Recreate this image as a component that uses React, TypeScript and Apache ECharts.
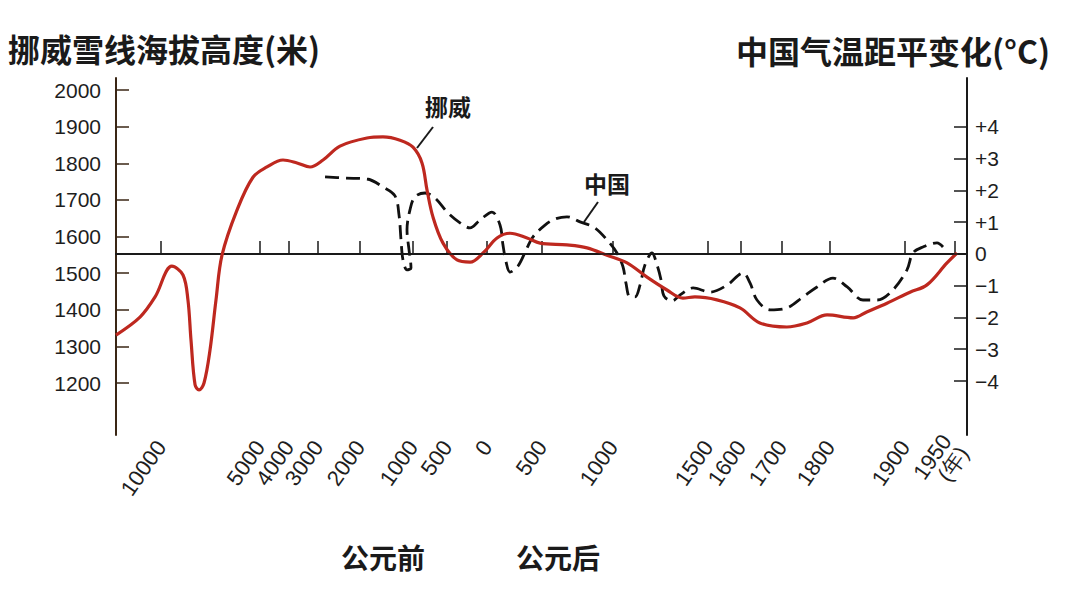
import React, { useEffect, useRef } from "react";
import * as echarts from "echarts";

// ---- data ----
const tickYears = [-10000, -5000, -4000, -3000, -2000, -1000, -500, 0, 500, 1000, 1500, 1600, 1700, 1800, 1900, 1950];
const tickLabels = ["10000", "5000", "4000", "3000", "2000", "1000", "500", "0", "500", "1000", "1500", "1600", "1700", "1800", "1900", "1950\n(年)"];
const leftTicks = [1200, 1300, 1400, 1500, 1600, 1700, 1800, 1900, 2000];
const rightTicks = [-4, -3, -2, -1, 0, 1, 2, 3, 4];

const norwayYears = [-12270, -11060, -10300, -9450, -8890, -8640, -8485, -8280, -8080, -7828, -7525, -7222, -6919, -6162, -5354, -4759, -4207, -3724, -3276, -2881, -2476, -1868, -1566, -1245, -1000, -868, -794, -706, -559, -375, -212, -50, 91, 209, 364, 482, 676, 817, 958, 1074, 1179, 1284, 1368, 1431, 1527, 1597, 1646, 1710, 1752, 1794, 1831, 1849, 1876, 1905, 1922, 1942, 1952];
const norwayValues = [1331, 1380, 1435, 1519, 1495, 1427, 1317, 1195, 1181, 1200, 1290, 1427, 1549, 1672, 1762, 1790, 1809, 1801, 1790, 1809, 1847, 1869, 1872, 1863, 1844, 1801, 1727, 1653, 1582, 1536, 1530, 1555, 1596, 1609, 1596, 1582, 1577, 1569, 1549, 1528, 1489, 1454, 1432, 1435, 1427, 1405, 1364, 1353, 1364, 1386, 1378, 1394, 1418, 1448, 1468, 1528, 1555];

const chinaYears = [-2833, -2357, -1868, -1566, -1340, -1264, -1226, -1189, -1113, -1038, -1075, -1113, -1057, -971, -823, -676, -488, -338, -213, -88, 45, 118, 145, 173, 209, 282, 364, 418, 521, 592, 676, 768, 873, 958, 1021, 1053, 1068, 1089, 1116, 1142, 1168, 1205, 1232, 1253, 1268, 1311, 1353, 1421, 1506, 1558, 1605, 1622, 1639, 1671, 1710, 1744, 1773, 1804, 1823, 1844, 1863, 1884, 1902, 1908, 1918, 1932, 1938];
const chinaValues = [2.43, 2.39, 2.36, 2.11, 1.83, 1.23, 0.44, -0.19, -0.5, -0.44, 0.13, 0.76, 1.39, 1.8, 1.92, 1.76, 1.29, 0.98, 0.82, 1.07, 1.32, 0.91, 0.28, -0.25, -0.57, -0.38, 0.19, 0.54, 0.91, 1.1, 1.17, 1.01, 0.82, 0.44, 0.03, -0.41, -0.91, -1.35, -1.35, -0.98, -0.35, 0.03, -0.35, -0.82, -1.32, -1.48, -1.29, -1.07, -1.2, -0.98, -0.6, -0.91, -1.45, -1.76, -1.7, -1.35, -1.04, -0.76, -1.04, -1.45, -1.45, -1.13, -0.5, 0.03, 0.22, 0.35, 0.22];

const zeroLineStartYear = -2760;

// ---- broken (non-linear) time axis: year -> percent of axis length ----
const X_BREAKS: [number, number][] = [
  [-12270, 0], [-10000, 5.29], [-5000, 16.92], [-4000, 20.33], [-3000, 23.74], [-2000, 28.67],
  [-1000, 34.9], [-500, 38.9], [0, 43.6], [500, 50.06], [1000, 58.4], [1500, 69.57], [1600, 73.44],
  [1700, 78.26], [1800, 83.9], [1900, 92.71], [1950, 98.59], [1962, 100],
];
function yearToPos(y: number): number {
  for (let i = 0; i < X_BREAKS.length - 1; i++) {
    const [y0, p0] = X_BREAKS[i];
    const [y1, p1] = X_BREAKS[i + 1];
    if (y <= y1 || i === X_BREAKS.length - 2) {
      return p0 + ((y - y0) / (y1 - y0)) * (p1 - p0);
    }
  }
  return 100;
}

const NUM_FONT = "'Liberation Sans', Arial, sans-serif";
const CJK_FONT = "'Noto Sans CJK SC', sans-serif";

export default function App() {
  const ref = useRef<HTMLDivElement>(null);
  useEffect(() => {
    if (!ref.current) return;
    const chart = echarts.init(ref.current, undefined, { renderer: "svg" });
    const tickPos = tickYears.map(yearToPos);
    const labelFor = (v: number) => {
      const i = tickPos.findIndex((p) => Math.abs(p - v) < 0.01);
      return i >= 0 ? tickLabels[i] : "";
    };
    const option: any = {
      animation: false,
      backgroundColor: "#ffffff",
      grid: { left: 116, right: 113, top: 78, bottom: 158, containLabel: false },
      xAxis: {
        type: "value",
        min: 0,
        max: 100,
        axisLine: { show: true, lineStyle: { color: "#1a1a1a", width: 2 } },
        axisTick: { show: true, inside: true, length: 13, customValues: tickPos, lineStyle: { color: "#1a1a1a", width: 1.5 } },
        axisLabel: {
          show: true,
          customValues: tickPos,
          formatter: (v: number) => labelFor(v),
          rotate: 55,
          margin: 8,
          fontSize: 22,
          fontFamily: NUM_FONT,
          color: "#1e1e1e",
          lineHeight: 21,
        },
        splitLine: { show: false },
      },
      yAxis: [
        {
          type: "value",
          position: "left",
          min: 1058,
          max: 2033,
          axisLine: { show: true, lineStyle: { color: "#3a2615", width: 2 } },
          axisTick: { show: true, inside: true, length: 13, customValues: leftTicks, lineStyle: { color: "#3a2615", width: 1.5 } },
          axisLabel: { show: true, customValues: leftTicks, formatter: (v: number) => String(v), margin: 15, fontSize: 21, fontFamily: NUM_FONT, color: "#1e1e1e" },
          splitLine: { show: false },
        },
        {
          type: "value",
          position: "right",
          min: -5.7,
          max: 5.54,
          axisLine: { show: true, lineStyle: { color: "#1a1a1a", width: 2 } },
          axisTick: { show: true, inside: true, length: 13, customValues: rightTicks, lineStyle: { color: "#1a1a1a", width: 1.5 } },
          axisLabel: {
            show: true,
            customValues: rightTicks,
            margin: 8,
            fontSize: 21,
            fontFamily: NUM_FONT,
            color: "#1e1e1e",
            formatter: (v: number) => (v > 0 ? "+" + v : v < 0 ? "\u2212" + Math.abs(v) : "0"),
          },
          splitLine: { show: false },
        },
      ],
      series: [
        {
          name: "中国",
          type: "line",
          yAxisIndex: 1,
          data: chinaYears.map((y, i) => [yearToPos(y), chinaValues[i]]),
          smooth: 0.35,
          showSymbol: false,
          symbol: "none",
          lineStyle: { color: "#111111", width: 2.8, type: [14, 7] },
          markLine: {
            silent: true,
            symbol: "none",
            label: { show: false },
            lineStyle: { color: "#1a1a1a", width: 1.6, type: "solid" },
            data: [[{ coord: [yearToPos(zeroLineStartYear), 0] }, { coord: [100, 0] }]],
          },
          z: 3,
        },
        {
          name: "挪威",
          type: "line",
          yAxisIndex: 0,
          data: norwayYears.map((y, i) => [yearToPos(y), norwayValues[i]]),
          smooth: 0.35,
          showSymbol: false,
          symbol: "none",
          lineStyle: { color: "#be281f", width: 3.2 },
          z: 4,
        },
      ],
      graphic: [
        { type: "text", x: 8, y: 48, style: { text: "挪威雪线海拔高度(米)", fontSize: 32, fontWeight: "bold", fontFamily: CJK_FONT, fill: "#1a1a1a", align: "left", verticalAlign: "middle" } },
        { type: "text", x: 1050, y: 50, style: { text: "中国气温距平变化(°C)", fontSize: 32, fontWeight: "bold", fontFamily: CJK_FONT, fill: "#1a1a1a", align: "right", verticalAlign: "middle" } },
        { type: "text", x: 448, y: 106, style: { text: "挪威", fontSize: 23, fontWeight: "bold", fontFamily: CJK_FONT, fill: "#1a1a1a", align: "center", verticalAlign: "middle" } },
        { type: "line", shape: { x1: 433, y1: 127, x2: 417, y2: 148 }, style: { stroke: "#1a1a1a", lineWidth: 2 } },
        { type: "text", x: 607, y: 183, style: { text: "中国", fontSize: 23, fontWeight: "bold", fontFamily: CJK_FONT, fill: "#1a1a1a", align: "center", verticalAlign: "middle" } },
        { type: "line", shape: { x1: 598, y1: 202, x2: 584, y2: 222 }, style: { stroke: "#1a1a1a", lineWidth: 2 } },
        { type: "text", x: 383, y: 557, style: { text: "公元前", fontSize: 28, fontWeight: "bold", fontFamily: CJK_FONT, fill: "#1a1a1a", align: "center", verticalAlign: "middle" } },
        { type: "text", x: 558, y: 557, style: { text: "公元后", fontSize: 28, fontWeight: "bold", fontFamily: CJK_FONT, fill: "#1a1a1a", align: "center", verticalAlign: "middle" } },
      ],
    };
    chart.setOption(option);
    return () => chart.dispose();
  }, []);
  return <div ref={ref} style={{ position: "absolute", left: 0, top: 0, width: 1080, height: 593 }} />;
}
